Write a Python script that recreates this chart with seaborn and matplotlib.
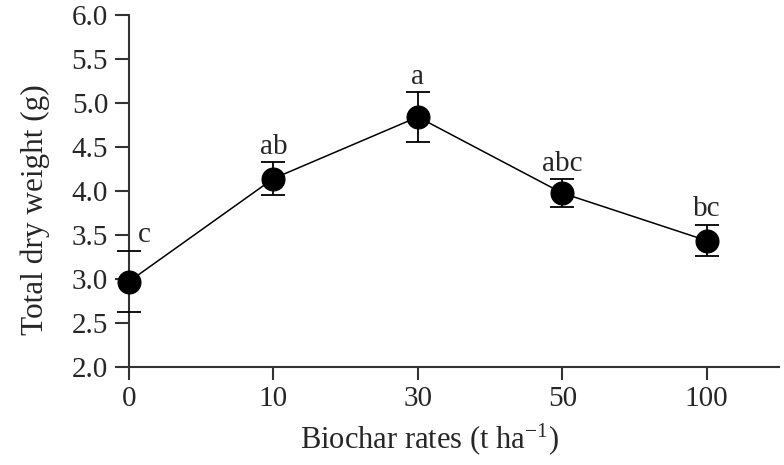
import matplotlib
matplotlib.use("Agg")
import matplotlib.pyplot as plt
import seaborn as sns
import pandas as pd

# Biochar application rates and mean total dry weight with standard errors
rates = ["0", "10", "30", "50", "100"]
dry_weight = [2.97, 4.14, 4.84, 3.975, 3.435]
std_err = [0.35, 0.185, 0.28, 0.16, 0.18]
letters = ["c", "ab", "a", "abc", "bc"]

sns.set_style("ticks")
plt.rcParams["font.family"] = ["Liberation Serif", "DejaVu Serif"]
plt.rcParams["mathtext.fontset"] = "custom"
plt.rcParams["mathtext.rm"] = "Liberation Serif"
plt.rcParams["mathtext.it"] = "Liberation Serif:italic"

df = pd.DataFrame({"rate": rates, "weight": dry_weight})

fig = plt.figure(figsize=(7.84, 4.65), dpi=100)
ax = fig.add_axes([0.1645, 0.211, 0.829, 0.757])

ax.errorbar(range(len(rates)), dry_weight, yerr=std_err, fmt="none",
            ecolor="black", elinewidth=1.3, capsize=8.5, capthick=1.3,
            zorder=2, clip_on=False)
sns.pointplot(data=df, x="rate", y="weight", color="black", ax=ax,
              markers="o", markersize=16.5, linewidth=1.1, errorbar=None)
for line in ax.lines:
    line.set_zorder(3)
    line.set_clip_on(False)

# significance letters above each upper error cap
for i, (m, e, lab) in enumerate(zip(dry_weight, std_err, letters)):
    if i == 0:
        ax.annotate(lab, (i, m + e), xytext=(6.5, 6), textcoords="offset points",
                    ha="left", va="baseline", fontsize=21)
    else:
        ax.annotate(lab, (i, m + e), xytext=(0, 6), textcoords="offset points",
                    ha="center", va="baseline", fontsize=21)

ax.set_xlim(0, 4.5)
ax.set_ylim(2.0, 6.0)
ax.set_yticks([2.0, 2.5, 3.0, 3.5, 4.0, 4.5, 5.0, 5.5, 6.0])
ax.set_yticklabels([f"{v:.1f}" for v in ax.get_yticks()])

ax.set_xlabel("Biochar rates (t ha$^{\\mathrm{-1}}$)", fontsize=22)
ax.set_ylabel("Total dry weight (g)", fontsize=22.5)
ax.xaxis.set_label_coords(0.462, -0.155)
ax.yaxis.set_label_coords(-0.121, 0.446)

for side in ("top", "right"):
    ax.spines[side].set_visible(False)
for side in ("left", "bottom"):
    ax.spines[side].set_linewidth(1.5)
    ax.spines[side].set_color("#333333")
ax.tick_params(axis="both", direction="out", width=1.5, color="#333333",
               labelsize=21, pad=5)
ax.tick_params(axis="y", length=10)
ax.tick_params(axis="x", length=9)

fig.savefig("out.png", dpi=100, facecolor="white")
